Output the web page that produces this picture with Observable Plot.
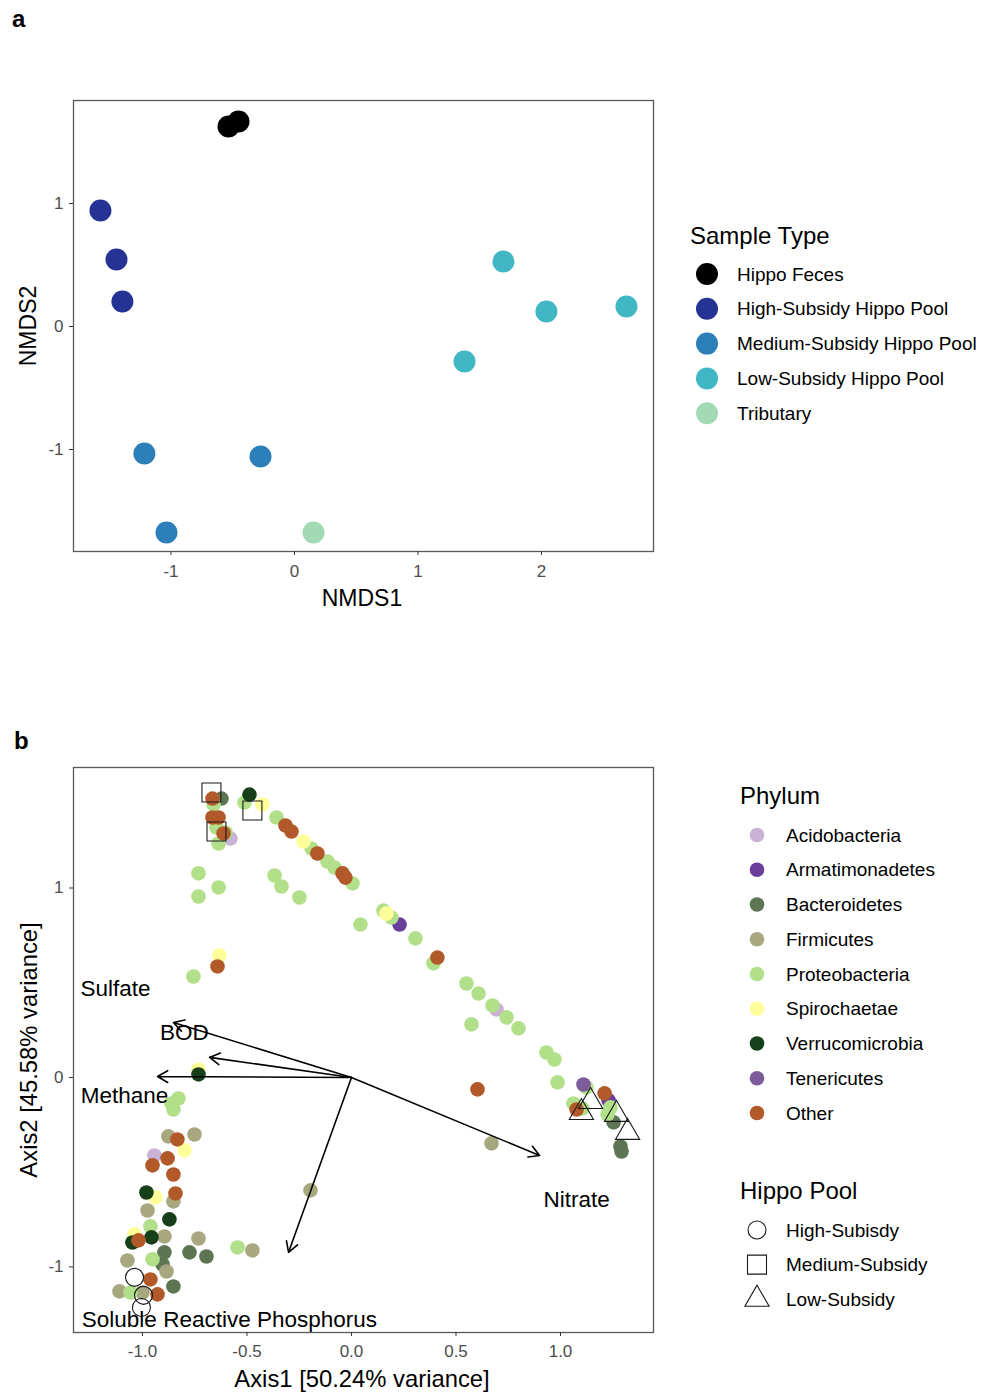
<!DOCTYPE html>
<html>
<head>
<meta charset="utf-8">
<script src="https://cdn.jsdelivr.net/npm/d3@7"></script>
<script src="https://cdn.jsdelivr.net/npm/@observablehq/plot@0.6"></script>
<style>
  body { margin: 0; background: #fff; }
  #root { position: relative; width: 984px; height: 1392px; overflow: hidden; background: #fff; }
  #root svg { position: absolute; overflow: visible; }
</style>
</head>
<body>
<div id="root"></div>
<script>
// ---------------- Panel a data (NMDS) ----------------
const sampleTypes = ["Hippo Feces", "High-Subsidy Hippo Pool", "Medium-Subsidy Hippo Pool", "Low-Subsidy Hippo Pool", "Tributary"];
const sampleColors = ["#000000", "#253494", "#2c7fb8", "#41b6c4", "#a1dab4"];
const nmds1 = [-0.534, -0.453, -1.571, -1.441, -1.393, -1.215, -0.275, -1.036, 1.692, 2.040, 2.688, 1.377, 0.154];
const nmds2 = [1.626, 1.667, 0.943, 0.545, 0.203, -1.033, -1.057, -1.675, 0.528, 0.122, 0.163, -0.285, -1.675];
const nmdsType = [0, 0, 1, 1, 1, 2, 2, 2, 3, 3, 3, 3, 4];
const nmdsXTicks = [-1, 0, 1, 2];
const nmdsYTicks = [-1, 0, 1];

// ---------------- Panel b data (PCoA biplot) ----------------
const phyla = ["Acidobacteria", "Armatimonadetes", "Bacteroidetes", "Firmicutes", "Proteobacteria", "Spirochaetae", "Verrucomicrobia", "Tenericutes", "Other"];
const phylaColors = ["#cab2d6", "#6a3d9a", "#5e7554", "#a8a880", "#b2df8a", "#ffff99", "#16401a", "#7d5c9b", "#b15928"];

const acidobacteria = [[-0.579, 1.261], [0.694, 0.359], [-0.943, -0.412]];
const armatimonadetes = [[0.230, 0.807], [1.230, -0.121]];
const bacteroidetes = [[-0.622, 1.472], [1.254, -0.237], [1.287, -0.364], [1.292, -0.391], [-0.895, -0.923], [-0.775, -0.923], [-0.694, -0.945], [-0.904, -0.987], [-0.852, -1.103]];
const firmicutes = [[0.670, -0.348], [-0.196, -0.596], [-0.876, -0.311], [-0.751, -0.301], [-0.852, -0.654], [-0.976, -0.702], [-0.895, -0.839], [-0.732, -0.850], [-1.072, -0.966], [-0.885, -1.024], [-1.110, -1.129], [-1.000, -1.135], [-0.474, -0.913]];
const proteobacteria = [[-0.660, 1.441], [-0.512, 1.451], [-0.646, 1.319], [-0.603, 1.293], [-0.636, 1.235], [-0.359, 1.372], [-0.191, 1.208], [-0.115, 1.140], [-0.081, 1.108], [0.005, 1.024], [-0.732, 1.077], [-0.636, 1.003], [-0.732, 0.955], [-0.368, 1.066], [-0.335, 1.008], [-0.249, 0.950], [0.043, 0.807], [-0.756, 0.533], [0.153, 0.881], [0.191, 0.844], [0.306, 0.734], [0.392, 0.602], [0.550, 0.496], [0.608, 0.443], [0.675, 0.380], [0.742, 0.317], [0.799, 0.259], [0.574, 0.280], [0.933, 0.132], [0.971, 0.095], [0.986, -0.026], [1.124, -0.053], [1.062, -0.137], [1.105, -0.164], [1.239, -0.158], [1.225, -0.195], [-0.828, -0.111], [-0.861, -0.137], [-0.852, -0.169], [-0.962, -0.786], [-0.952, -0.960], [-1.057, -1.135], [-0.545, -0.897]];
const spirochaetae = [[-0.426, 1.441], [-0.230, 1.245], [-0.632, 0.644], [0.167, 0.865], [-0.732, 0.042], [-0.799, -0.385], [-0.938, -0.633], [-1.038, -0.828]];
const verrucomicrobia = [[-0.488, 1.493], [-0.732, 0.016], [-0.981, -0.607], [-0.871, -0.749], [-1.048, -0.871], [-0.957, -0.844]];
const tenericutes = [[1.110, -0.037]];
const other = [[-0.665, 1.472], [-0.665, 1.372], [-0.636, 1.372], [-0.612, 1.288], [-0.316, 1.330], [-0.287, 1.298], [-0.163, 1.182], [-0.043, 1.077], [-0.029, 1.055], [-0.641, 0.586], [0.411, 0.633], [0.603, -0.063], [1.077, -0.169], [1.211, -0.084], [-0.833, -0.327], [-0.880, -0.427], [-0.952, -0.464], [-0.852, -0.512], [-0.842, -0.612], [-1.019, -0.860], [-0.962, -1.066], [-0.928, -1.145]];
const phylumPoints = [acidobacteria, armatimonadetes, bacteroidetes, firmicutes, proteobacteria, spirochaetae, verrucomicrobia, tenericutes, other];

const hippoPools = ["High-Subisdy", "Medium-Subsidy", "Low-Subsidy"];
const highSubsidy = [[-1.038, -1.055], [-0.995, -1.150], [-1.005, -1.214]];
const mediumSubsidy = [[-0.670, 1.504], [-0.474, 1.409], [-0.646, 1.298]];
const lowSubsidy = [[1.144, -0.127], [1.100, -0.185], [1.268, -0.195], [1.321, -0.290]];

const envNames = ["Sulfate", "BOD", "Methane", "Nitrate", "Soluble Reactive Phosphorus"];
const envArrowX = [-0.852, -0.679, -0.928, 0.900, -0.301];
const envArrowY = [0.290, 0.106, 0.005, -0.412, -0.923];
const envLabelX = [-1.129, -0.799, -1.086, 1.077, -0.584];
const envLabelY = [0.470, 0.237, -0.095, -0.644, -1.277];

const axisBXTicks = [-1, -0.5, 0, 0.5, 1];
const axisBYTicks = [-1, 0, 1];

// ---------------- Build tables ----------------
const FONT = '"Liberation Sans", Arial, Helvetica, sans-serif';
const samplesA = nmds1.map((x, i) => ({x, y: nmds2[i], type: sampleTypes[nmdsType[i]]}));
const pointsB = phylumPoints.flatMap((arr, k) => arr.map(([x, y]) => ({x, y, phylum: phyla[k]})));
const toXY = arr => arr.map(([x, y]) => ({x, y}));
const arrows = envNames.map((name, i) => ({name, x: envArrowX[i], y: envArrowY[i]}));
const labels = envNames.map((name, i) => ({name, x: envLabelX[i], y: envLabelY[i]}));

const root = document.getElementById("root");

const axisStyle = {tickSize: 4, fontSize: 17, fill: "#4d4d4d", stroke: "#333333", label: null};

// ---------------- Panel a ----------------
const plotA = Plot.plot({
  width: 660, height: 620,
  marginLeft: 73, marginRight: 7, marginTop: 100, marginBottom: 69,
  x: {domain: [-1.789, 2.907]},
  y: {domain: [-1.829, 1.837]},
  color: {domain: sampleTypes, range: sampleColors},
  style: {fontFamily: FONT, background: "transparent"},
  marks: [
    Plot.dot(samplesA, {x: "x", y: "y", r: 11, fill: "type", stroke: "none"}),
    Plot.frame({stroke: "#595959", strokeWidth: 1.3}),
    Plot.axisX({...axisStyle, tickPadding: 9, ticks: nmdsXTicks, tickFormat: d => String(d)}),
    Plot.axisY({...axisStyle, tickPadding: 6, ticks: nmdsYTicks, tickFormat: d => String(d)})
  ]
});
plotA.style.left = "0px"; plotA.style.top = "0px";
root.appendChild(plotA);

// ---------------- Panel b ----------------
const plotB = Plot.plot({
  width: 660, height: 692,
  marginLeft: 73, marginRight: 7, marginTop: 67, marginBottom: 60,
  x: {domain: [-1.330, 1.445]},
  y: {domain: [-1.346, 1.636]},
  color: {domain: phyla, range: phylaColors},
  style: {fontFamily: FONT, background: "transparent"},
  marks: [
    Plot.dot(pointsB, {x: "x", y: "y", r: 7.3, fill: "phylum", stroke: "none"}),
    Plot.dot(toXY(highSubsidy), {x: "x", y: "y", r: 9, symbol: "circle", fill: "none", stroke: "#1a1a1a", strokeWidth: 1.1}),
    Plot.dot(toXY(mediumSubsidy), {x: "x", y: "y", r: 10.7, symbol: "square", fill: "none", stroke: "#1a1a1a", strokeWidth: 1.1}),
    Plot.dot(toXY(lowSubsidy), {x: "x", y: "y", r: 9, symbol: "triangle", fill: "none", stroke: "#1a1a1a", strokeWidth: 1.1}),
    Plot.arrow(arrows, {x1: 0, y1: 0, x2: "x", y2: "y", stroke: "black", strokeWidth: 1.6, headLength: 11, headAngle: 60}),
    Plot.text(labels, {x: "x", y: "y", text: "name", fontSize: 22.5, fill: "black", textAnchor: "middle"}),
    Plot.frame({stroke: "#595959", strokeWidth: 1.3}),
    Plot.axisX({...axisStyle, tickPadding: 8, ticks: axisBXTicks, tickFormat: d => d.toFixed(1)}),
    Plot.axisY({...axisStyle, tickPadding: 6, ticks: axisBYTicks, tickFormat: d => String(d)})
  ]
});
plotB.style.left = "0px"; plotB.style.top = "700px";
root.appendChild(plotB);

// ---------------- Annotations & legends ----------------
const svg = d3.select(root).append("svg")
  .attr("width", 984).attr("height", 1392)
  .style("left", "0px").style("top", "0px")
  .style("pointer-events", "none")
  .attr("font-family", FONT);

function txt(x, y, s, size, opts = {}) {
  const t = svg.append("text").attr("x", x).attr("y", y)
    .attr("dominant-baseline", "central")
    .attr("font-size", size).attr("fill", opts.fill || "#000")
    .attr("text-anchor", opts.anchor || "start")
    .text(s);
  if (opts.bold) t.attr("font-weight", "bold");
  if (opts.rotate) t.attr("transform", `rotate(-90, ${x}, ${y})`);
  return t;
}

// panel letters
txt(12, 18, "a", 24, {bold: true});
txt(14, 740, "b", 24, {bold: true});

// axis titles
txt(362, 598, "NMDS1", 23, {anchor: "middle"});
txt(28, 326, "NMDS2", 23, {anchor: "middle", rotate: true});
txt(362, 1378, "Axis1 [50.24% variance]", 23.8, {anchor: "middle"});
txt(28, 1050, "Axis2 [45.58% variance]", 23.8, {anchor: "middle", rotate: true});

// legend a
txt(690, 235, "Sample Type", 24);
sampleTypes.forEach((s, i) => {
  const y = 274 + i * 34.8;
  svg.append("circle").attr("cx", 707).attr("cy", y).attr("r", 11).attr("fill", sampleColors[i]);
  txt(737, y, s, 19);
});

// legend b: phylum
txt(740, 795, "Phylum", 24);
phyla.forEach((s, i) => {
  const y = 835 + i * 34.75;
  svg.append("circle").attr("cx", 757).attr("cy", y).attr("r", 7.3).attr("fill", phylaColors[i]);
  txt(786, y, s, 19);
});

// legend b: hippo pool
txt(740, 1190, "Hippo Pool", 24);
const poolSymbols = [[d3.symbolCircle, Math.PI * 81], [d3.symbolSquare, 361], [d3.symbolTriangle, Math.PI * 81]];
hippoPools.forEach((s, i) => {
  const y = 1230 + i * 34.6;
  const [sym, size] = poolSymbols[i];
  svg.append("path").attr("d", d3.symbol(sym, size)())
    .attr("transform", `translate(757, ${y})`)
    .attr("fill", "none").attr("stroke", "#1a1a1a").attr("stroke-width", 1.1);
  txt(786, y, s, 19);
});
</script>
</body>
</html>
